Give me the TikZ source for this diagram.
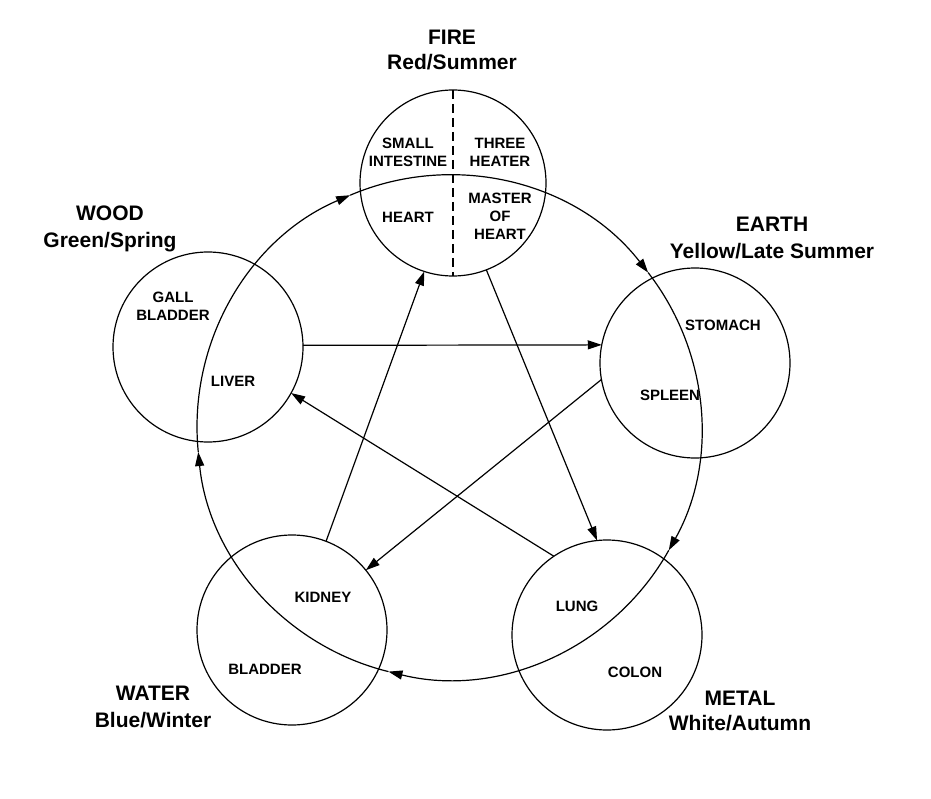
\documentclass[tikz,border=0pt]{standalone}
\usepackage{fontspec}
\setmainfont{Liberation Sans}
\usetikzlibrary{arrows.meta}
\begin{document}
\begin{tikzpicture}[x=1pt,y=-1pt,
  elem/.style={circle,draw,line width=1.2pt,inner sep=0pt,outer sep=0pt,minimum size=190pt},
  organ/.style={font=\fontsize{15}{18}\selectfont\bfseries,align=center,inner sep=0pt},
  phase/.style={font=\fontsize{21}{27}\selectfont\bfseries,inner sep=0pt,anchor=base},
  flow/.style={line width=1.2pt,-{Triangle[length=14pt,width=9pt]}},
  divider/.style={line width=1.2pt,dash pattern=on 9pt off 5pt},
]
\useasboundingbox[fill=white] (0,0) rectangle (931,799);

% element circles
\node[elem,minimum size=186pt] (fire) at (453,183) {};
\node[elem] (wood)  at (208,347) {};
\node[elem] (earth) at (695,363) {};
\node[elem] (water) at (292,630) {};
\node[elem] (metal) at (607,635) {};

% dashed divider in fire circle
\draw[divider] (fire.north) -- (fire.south);

% generating cycle (big ring)
\coordinate (C) at (449,427);
\draw[flow] (C) ++(-185.7:252) arc[start angle=-185.7, end angle=-113.1, radius=252];
\draw[flow] (C) ++(-113.1:252) arc[start angle=-113.1, end angle=-37.8, radius=252];
\draw[flow] (C) ++(-37.8:252) arc[start angle=-37.8, end angle=29.3, radius=252];
\draw[flow] (C) ++(29.3:252) arc[start angle=29.3, end angle=103.9, radius=252];
\draw[flow] (C) ++(103.9:252) arc[start angle=103.9, end angle=174.3, radius=252];

% controlling cycle (star)
\draw[flow] (wood.1) -- (earth.169);
\draw[flow] (earth.190) -- (water.39);
\draw[flow] (water.69) -- (fire.252);
\draw[flow] (fire.291) -- (metal.96);
\draw[flow] (metal.124) -- (wood.331);

% organ texts
\node[organ] (si) at (408,152) {SMALL\\INTESTINE};
\node[organ] (th) at (500,152) {THREE\\HEATER};
\node[organ] (he) at (408,217) {HEART};
\node[organ] (mh) at (500,216) {MASTER\\OF\\HEART};
\node[organ] (gb) at (173,306.5) {GALL\\BLADDER};
\node[organ] (li) at (233,381) {LIVER};
\node[organ] (st) at (723,325) {STOMACH};
\node[organ] (sp) at (670,395) {SPLEEN};
\node[organ] (ki) at (323,597) {KIDNEY};
\node[organ] (bl) at (265,669) {BLADDER};
\node[organ] (lu) at (577,606) {LUNG};
\node[organ] (co) at (635,672) {COLON};

% phase labels
\node[phase] (firename) at (452,44.5) {FIRE};
\node[phase] (fireseason) at (452,70) {Red/Summer};
\node[phase] (woodname) at (110,220.5) {WOOD};
\node[phase] (woodseason) at (110,247.5) {Green/Spring};
\node[phase] (earthname) at (772,231.5) {EARTH};
\node[phase] (earthseason) at (772,258.5) {Yellow/Late Summer};
\node[phase] (watername) at (153,700.5) {WATER};
\node[phase] (waterseason) at (153,727.5) {Blue/Winter};
\node[phase] (metalname) at (740,705.5) {METAL};
\node[phase] (metalseason) at (740,730.5) {White/Autumn};
\end{tikzpicture}
\end{document}
